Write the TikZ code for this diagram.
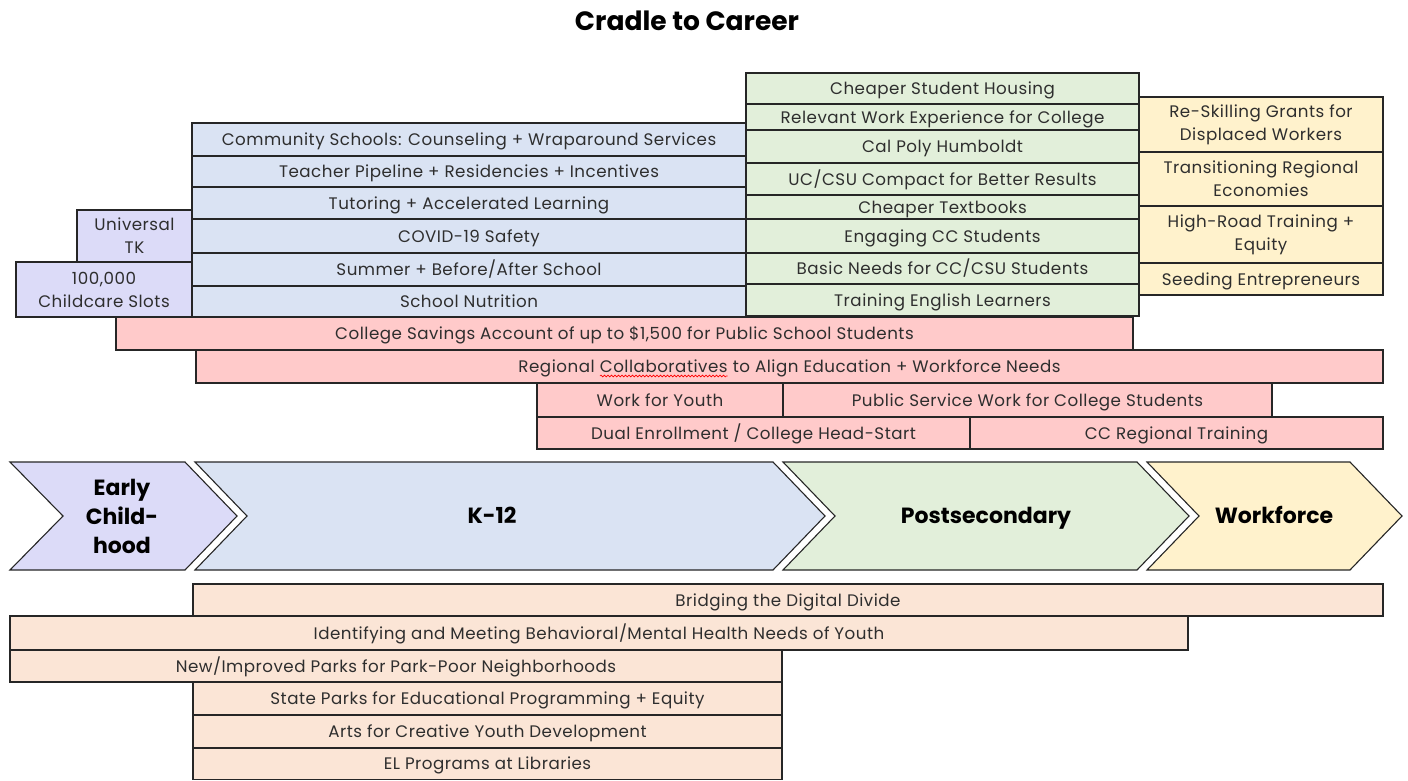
\documentclass[tikz,border=0pt]{standalone}
\usepackage{fontspec}
\setmainfont{Poppins}
\newfontfamily\cellfamily[LetterSpace=3]{Poppins}
\usetikzlibrary{decorations.pathmorphing}

\definecolor{ecfill}{HTML}{DCDBF8}
\definecolor{kfill}{HTML}{DAE3F3}
\definecolor{psfill}{HTML}{E2EFDA}
\definecolor{wffill}{HTML}{FFF2CC}
\definecolor{crossfill}{HTML}{FFCACA}
\definecolor{suppfill}{HTML}{FBE5D6}

\newcommand\cellsize{\cellfamily\fontsize{16.7}{23}\selectfont}
\newcommand\stagesize{\fontsize{22}{29}\selectfont\bfseries}
\newcommand\titlesize{\fontsize{26.5}{30}\selectfont\bfseries}
% red spell-check wave under one word
\newcommand\spellwave[1]{\tikz[baseline=(sw.base)]{\node[inner sep=0pt,outer sep=0pt,draw=none,fill=none,minimum width=0pt,minimum height=0pt,text height=,text depth=] (sw) {#1};
  \draw[red,line width=.6pt,decorate,decoration={snake,amplitude=.9pt,segment length=3.5pt}] ([yshift=-3.5pt]sw.base west) -- ([yshift=-3.5pt]sw.base east);}}

\begin{document}
\begin{tikzpicture}[x=1pt,y=-1pt]
    \tikzstyle{cell}=[draw=black!85,line width=1.1pt]
    \tikzstyle{txt2}=[font=\cellsize,text=black!82,align=center,inner sep=0pt]
    \tikzstyle{txt}=[txt2,text height=12pt,text depth=0pt]
    \tikzstyle{stage2}=[font=\stagesize,text=black,align=center,inner sep=0pt]
    \tikzstyle{stage}=[stage2,text height=15.5pt,text depth=0pt]
    \useasboundingbox (0,0) rectangle (1408,780);
    \node[font=\titlesize,inner sep=0pt,text height=18.5pt,text depth=0pt] (title) at (687,21) {Cradle to Career};

    % early childhood
    \draw[cell,fill=ecfill] (77,210) rectangle (192,262) node[txt2,midway] (tk) {Universal\\TK};
    \draw[cell,fill=ecfill] (16,262) rectangle (192,317) node[txt2,midway] (slots) {100,000\\Childcare Slots};

    % k-12
    \draw[cell,fill=kfill] (192,123) rectangle (746,156) node[txt,midway] (comm) {Community Schools: Counseling + Wraparound Services};
    \draw[cell,fill=kfill] (192,156) rectangle (746,187) node[txt,midway] (teach) {Teacher Pipeline + Residencies + Incentives};
    \draw[cell,fill=kfill] (192,187) rectangle (746,219) node[txt,midway] (tutor) {Tutoring + Accelerated Learning};
    \draw[cell,fill=kfill] (192,219) rectangle (746,253) node[txt,midway] (covid) {COVID-19 Safety};
    \draw[cell,fill=kfill] (192,253) rectangle (746,286) node[txt,midway] (summer) {Summer + Before/After School};
    \draw[cell,fill=kfill] (192,286) rectangle (746,317) node[txt,midway] (nutr) {School Nutrition};

    % postsecondary
    \draw[cell,fill=psfill] (746,73) rectangle (1139,104) node[txt,midway] (housing) {Cheaper Student Housing};
    \draw[cell,fill=psfill] (746,104) rectangle (1139,130) node[txt,midway] (workexp) {Relevant Work Experience for College};
    \draw[cell,fill=psfill] (746,130) rectangle (1139,163) node[txt,midway] (humboldt) {Cal Poly Humboldt};
    \draw[cell,fill=psfill] (746,163) rectangle (1139,195) node[txt,midway] (compact) {UC/CSU Compact for Better Results};
    \draw[cell,fill=psfill] (746,195) rectangle (1139,219) node[txt,midway] (books) {Cheaper Textbooks};
    \draw[cell,fill=psfill] (746,219) rectangle (1139,253) node[txt,midway] (engage) {Engaging CC Students};
    \draw[cell,fill=psfill] (746,253) rectangle (1139,284) node[txt,midway] (needs) {Basic Needs for CC/CSU Students};
    \draw[cell,fill=psfill] (746,284) rectangle (1139,316) node[txt,midway] (english) {Training English Learners};

    % workforce
    \draw[cell,fill=wffill] (1139,97) rectangle (1383,152) node[txt2,midway] (reskill) {Re-Skilling Grants for\\Displaced Workers};
    \draw[cell,fill=wffill] (1139,152) rectangle (1383,206) node[txt2,midway] (regecon) {Transitioning Regional\\Economies};
    \draw[cell,fill=wffill] (1139,206) rectangle (1383,263) node[txt2,midway] (highroad) {High-Road Training +\\Equity};
    \draw[cell,fill=wffill] (1139,263) rectangle (1383,295) node[txt,midway] (seed) {Seeding Entrepreneurs};

    % across stages
    \draw[cell,fill=crossfill] (116,317) rectangle (1133,350) node[txt,midway] (savings) {College Savings Account of up to \$1,500 for Public School Students};
    \draw[cell,fill=crossfill] (196,350) rectangle (1383,383) node[txt,midway] (collab) {Regional \spellwave{Collaboratives} to Align Education + Workforce Needs};
    \draw[cell,fill=crossfill] (537,383) rectangle (783,417) node[txt,midway] (youth) {Work for Youth};
    \draw[cell,fill=crossfill] (783,383) rectangle (1272,417) node[txt,midway] (pubserv) {Public Service Work for College Students};
    \draw[cell,fill=crossfill] (537,417) rectangle (970,449) node[txt,midway] (dual) {Dual Enrollment / College Head-Start};
    \draw[cell,fill=crossfill] (970,417) rectangle (1383,449) node[txt,midway] (ccrt) {CC Regional Training};

    % stage chevrons
    \draw[cell,fill=ecfill] (10,462) -- (185,462) -- (237,516) -- (185,570) -- (10,570) -- (63,516) -- cycle;
    \draw[cell,fill=kfill] (195,462) -- (773,462) -- (825,516) -- (773,570) -- (195,570) -- (247,516) -- cycle;
    \draw[cell,fill=psfill] (783,462) -- (1137,462) -- (1189,516) -- (1137,570) -- (783,570) -- (835,516) -- cycle;
    \draw[cell,fill=wffill] (1147,462) -- (1350,462) -- (1402,516) -- (1350,570) -- (1147,570) -- (1199,516) -- cycle;
    \node[stage2] (early) at (122,516) {Early\\Child-\\hood};
    \node[stage] (k12) at (492,516) {K-12};
    \node[stage] (post) at (986,516) {Postsecondary};
    \node[stage] (work) at (1274,516) {Workforce};

    % supports
    \draw[cell,fill=suppfill] (193,584) rectangle (1383,616) node[txt,midway] (digital) {Bridging the Digital Divide};
    \draw[cell,fill=suppfill] (10,616) rectangle (1188,650) node[txt,midway] (mental) {Identifying and Meeting Behavioral/Mental Health Needs of Youth};
    \draw[cell,fill=suppfill] (10,650) rectangle (782,682) node[txt,midway] (parks) {New/Improved Parks for Park-Poor Neighborhoods};
    \draw[cell,fill=suppfill] (193,682) rectangle (782,715) node[txt,midway] (stparks) {State Parks for Educational Programming + Equity};
    \draw[cell,fill=suppfill] (193,715) rectangle (782,748) node[txt,midway] (arts) {Arts for Creative Youth Development};
    \draw[cell,fill=suppfill] (193,748) rectangle (782,779.3) node[txt,midway] (libs) {EL Programs at Libraries};
\end{tikzpicture}
\end{document}
